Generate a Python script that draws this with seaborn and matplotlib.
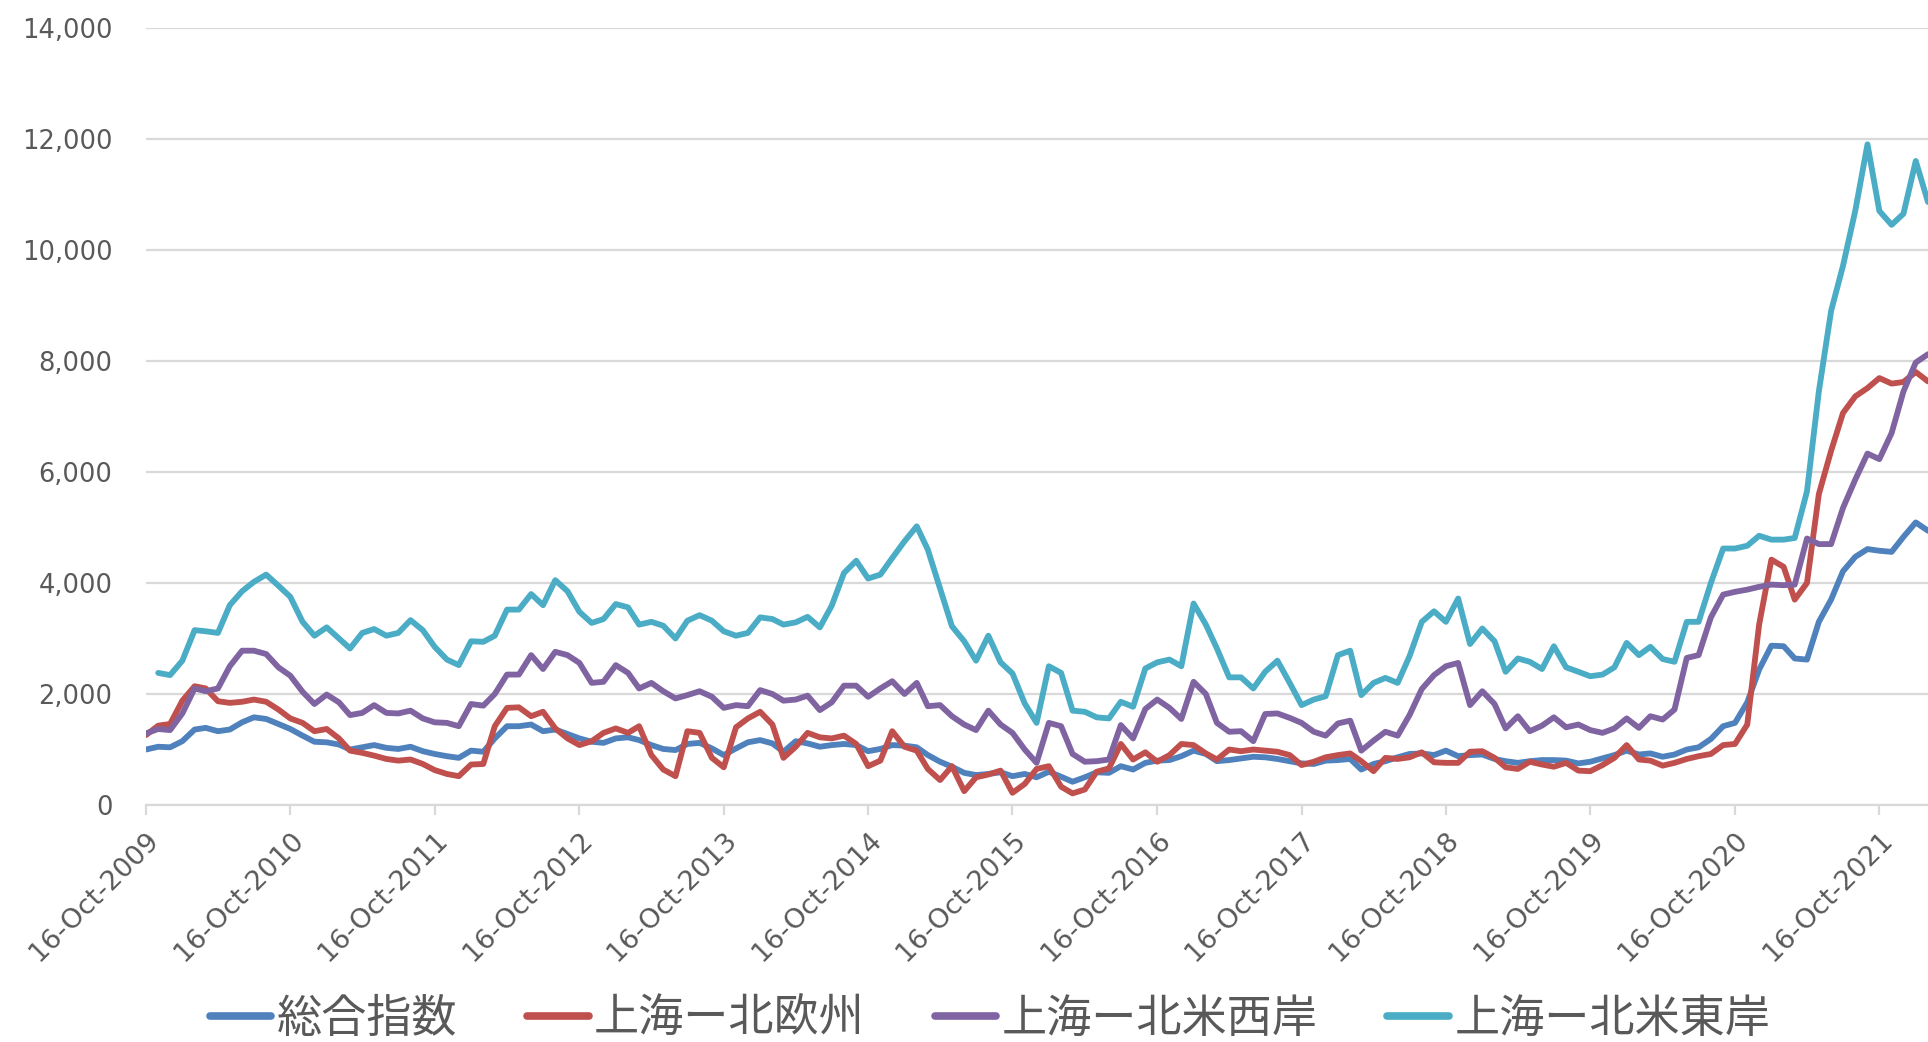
"""
上海発コンテナ運賃指数 (SCFI) の推移、2009年10月-2022年2月。
値はおおよそ月1回の間隔で元の図から読み取ったもの。
"""
import numpy as np
import pandas as pd
import matplotlib
matplotlib.use("Agg")
import matplotlib.pyplot as plt
import seaborn as sns
from matplotlib.ticker import FuncFormatter

# 総合指数
composite = [
    1000, 1050, 1040, 1150, 1360, 1390, 1330, 1360, 1490, 1580, 1550, 1460, 1370,
    1250, 1140, 1130, 1090, 1000, 1040, 1080, 1030, 1010, 1050, 970, 920,
    880, 850, 980, 960, 1200, 1420, 1420, 1450, 1330, 1360, 1280, 1200,
    1140, 1120, 1200, 1220, 1170, 1080, 1010, 990, 1100, 1120, 1020, 900,
    1020, 1130, 1170, 1110, 960, 1150, 1110, 1050, 1080, 1100, 1080, 970, 1010,
    1080, 1070, 1040, 900, 780, 690, 580, 540, 560, 590, 520, 560, 500,
    600, 510, 420, 500, 590, 580, 700, 640, 760, 800, 810, 880,
    980, 920, 790, 810, 840, 870, 860, 830, 790, 750, 740, 800,
    810, 830, 640, 740, 790, 860, 920, 930, 900, 980, 880, 900, 910,
    830, 790, 760, 790, 810, 810, 800, 750, 780, 840, 900, 980,
    910, 930, 870, 910, 1000, 1040, 1190, 1420, 1480, 1850, 2440, 2870, 2860,
    2640, 2620, 3300, 3700, 4210, 4470, 4610, 4580, 4560, 4830, 5090, 4940,
]

# 上海ー北欧州
north_europe = [
    1260, 1430, 1460, 1880, 2140, 2100, 1870, 1840, 1860, 1900, 1860, 1720, 1560,
    1480, 1330, 1370, 1200, 980, 940, 890, 830, 800, 820, 740, 630,
    560, 520, 730, 740, 1420, 1750, 1760, 1600, 1680, 1380, 1200, 1080,
    1150, 1300, 1380, 1300, 1420, 900, 640, 520, 1330, 1300, 850, 680,
    1400, 1560, 1680, 1450, 850, 1050, 1300, 1220, 1200, 1250, 1100, 700, 800,
    1330, 1050, 980, 650, 450, 700, 250, 500, 550, 620, 220, 380, 650,
    700, 330, 210, 280, 600, 660, 1100, 820, 950, 780, 900, 1100,
    1080, 930, 820, 1000, 970, 1000, 980, 960, 900, 720, 780, 860,
    900, 930, 790, 610, 850, 830, 860, 950, 770, 760, 760, 960, 970,
    850, 680, 650, 780, 730, 690, 760, 620, 610, 720, 850, 1080,
    820, 800, 710, 760, 830, 880, 920, 1080, 1100, 1450, 3250, 4420, 4290,
    3700, 4000, 5600, 6380, 7060, 7360, 7510, 7690, 7590, 7620, 7800, 7630,
]

# 上海ー北米西岸
us_west = [
    1290, 1370, 1350, 1650, 2100, 2050, 2100, 2500, 2780, 2780, 2720, 2480, 2330,
    2040, 1820, 1990, 1850, 1620, 1660, 1800, 1660, 1650, 1700, 1560, 1490,
    1480, 1420, 1820, 1790, 2000, 2350, 2350, 2700, 2450, 2760, 2700, 2560,
    2200, 2220, 2520, 2380, 2100, 2200, 2050, 1920, 1980, 2050, 1950, 1750,
    1800, 1780, 2070, 2000, 1880, 1900, 1970, 1710, 1850, 2150, 2150, 1950, 2100,
    2230, 2000, 2200, 1780, 1800, 1600, 1450, 1350, 1700, 1450, 1300, 1000, 760,
    1480, 1420, 920, 780, 790, 820, 1440, 1200, 1730, 1900, 1750, 1550,
    2220, 2000, 1480, 1320, 1330, 1150, 1640, 1650, 1570, 1480, 1320, 1250,
    1470, 1520, 980, 1160, 1320, 1250, 1620, 2090, 2340, 2500, 2560, 1800, 2050,
    1820, 1380, 1600, 1330, 1430, 1580, 1400, 1450, 1350, 1300, 1380, 1560,
    1390, 1600, 1540, 1720, 2650, 2700, 3380, 3790, 3840, 3880, 3930, 3970, 3960,
    3970, 4800, 4700, 4700, 5350, 5860, 6330, 6230, 6700, 7450, 7970, 8120,
]

# 上海ー北米東岸 (最初の月は値なし)
us_east = [
    np.nan, 2380, 2340, 2600, 3150, 3130, 3100, 3600, 3850, 4020, 4150, 3950, 3750,
    3300, 3050, 3200, 3000, 2820, 3100, 3170, 3050, 3100, 3330, 3150, 2850,
    2620, 2520, 2950, 2940, 3050, 3520, 3520, 3800, 3600, 4050, 3850, 3480,
    3280, 3350, 3620, 3560, 3250, 3300, 3230, 3000, 3320, 3420, 3320, 3130,
    3050, 3100, 3380, 3350, 3250, 3290, 3390, 3200, 3590, 4180, 4400, 4080, 4150,
    4450, 4750, 5020, 4600, 3900, 3220, 2950, 2600, 3050, 2570, 2370, 1830, 1480,
    2500, 2380, 1700, 1680, 1580, 1560, 1860, 1770, 2460, 2570, 2620, 2500,
    3630, 3250, 2820, 2300, 2300, 2100, 2400, 2600, 2200, 1800, 1900, 1960,
    2700, 2780, 1980, 2200, 2290, 2200, 2680, 3300, 3490, 3300, 3720, 2900, 3180,
    2950, 2400, 2640, 2580, 2450, 2860, 2480, 2400, 2320, 2350, 2480, 2920,
    2700, 2850, 2630, 2580, 3300, 3300, 4000, 4620, 4620, 4670, 4850, 4780, 4780,
    4810, 5650, 7450, 8900, 9710, 10700, 11900, 10700, 10450, 10650, 11600, 10860,
]

series_names = ["総合指数", "上海ー北欧州", "上海ー北米西岸", "上海ー北米東岸"]
colors = ["#4F81BD", "#C0504D", "#8064A2", "#4BACC6"]
tick_years = list(range(2009, 2022))

dates = pd.date_range("2009-10-01", periods=len(composite), freq="MS") + pd.Timedelta(days=15)

wide = pd.DataFrame({
    "date": dates,
    series_names[0]: composite,
    series_names[1]: north_europe,
    series_names[2]: us_west,
    series_names[3]: us_east,
})
df = wide.melt(id_vars="date", var_name="route", value_name="value").dropna()

sns.set_theme(style="white")
plt.rcParams["font.family"] = ["DejaVu Sans", "Noto Sans CJK JP"]

TEXT = "#595959"
GRID = "#d9d9d9"

fig = plt.figure(figsize=(19.28, 10.42), dpi=100)
ax = fig.add_axes([0.0757, 0.2274, 1 - 0.0757, 0.9734 - 0.2274])

sns.lineplot(data=df, x="date", y="value", hue="route", hue_order=series_names,
             palette=colors, linewidth=4.2, estimator=None, ax=ax)

ax.set_xlim(dates[0], dates[-1])
ax.set_ylim(0, 14000)
ax.set_yticks(range(0, 14001, 2000))
ax.yaxis.set_major_formatter(FuncFormatter(lambda v, _: f"{v:,.0f}"))

ax.set_xticks([pd.Timestamp(f"{y}-10-16") for y in tick_years])
ax.set_xticklabels([f"16-Oct-{y}" for y in tick_years], rotation=45,
                   ha="right", va="top", rotation_mode="anchor")

ax.yaxis.grid(True, color=GRID, linewidth=1.6)
ax.xaxis.grid(False)
ax.set_axisbelow(True)
for side in ["top", "right", "left"]:
    ax.spines[side].set_visible(False)
ax.spines["bottom"].set_color(GRID)
ax.spines["bottom"].set_linewidth(1.6)

ax.tick_params(axis="x", bottom=True, length=7, width=1.6, color=GRID,
               pad=9, labelsize=19.5, labelcolor=TEXT)
ax.tick_params(axis="y", left=False, length=0, pad=24, labelsize=18.5, labelcolor=TEXT)
ax.set_xlabel("")
ax.set_ylabel("")

handles, labels = ax.get_legend_handles_labels()
ax.get_legend().remove()
leg = fig.legend(handles, labels, loc="center", bbox_to_anchor=(0.5135, 0.022),
                 ncol=4, frameon=False, handlelength=1.36, handletextpad=0.12,
                 columnspacing=1.55, borderpad=0,
                 prop={"family": ["Noto Sans CJK JP", "DejaVu Sans"], "size": 32.5})
for t in leg.get_texts():
    t.set_color(TEXT)
for h in leg.get_lines():
    h.set_linewidth(5.5)

fig.savefig("out.png", dpi=100)
